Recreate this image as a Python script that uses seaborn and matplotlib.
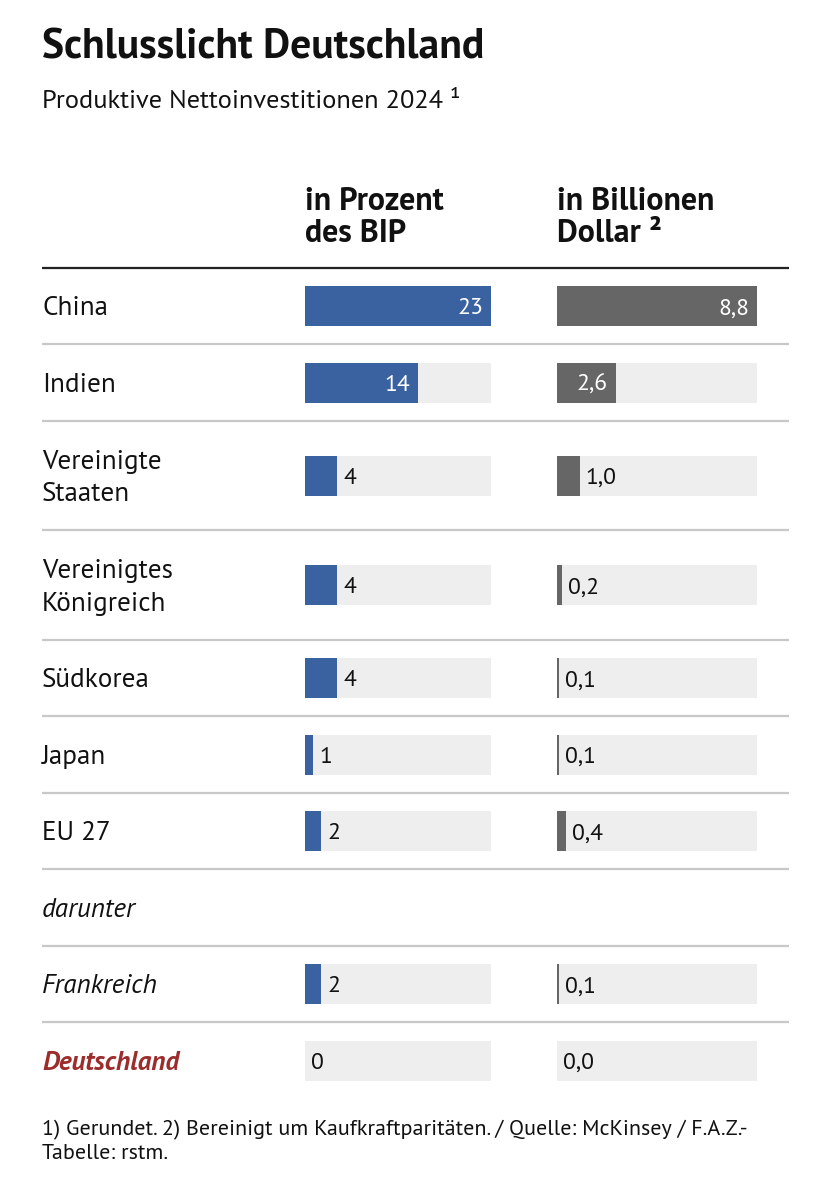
import numpy as np
import matplotlib
matplotlib.use("Agg")
import matplotlib.pyplot as plt
import matplotlib.transforms as mtransforms
from matplotlib import font_manager
import seaborn as sns

# ---------------- data ----------------
countries = ["China", "Indien", "Vereinigte\nStaaten", "Vereinigtes\nKönigreich",
             "Südkorea", "Japan", "EU 27", "darunter", "Frankreich", "Deutschland"]
pct_bip = [23, 14, 4, 4, 4, 1, 2, None, 2, 0]
usd_bn = [8.8, 2.6, 1.0, 0.2, 0.1, 0.1, 0.4, None, 0.1, 0.0]
pct_labels = ["23", "14", "4", "4", "4", "1", "2", "", "2", "0"]
usd_labels = ["8,8", "2,6", "1,0", "0,2", "0,1", "0,1", "0,4", "", "0,1", "0,0"]

title = "Schlusslicht Deutschland"
subtitle = "Produktive Nettoinvestitionen 2024 ¹"
header1 = ["in Prozent", "des BIP"]
header2 = ["in Billionen", "Dollar ²"]
footnote = ["1) Gerundet. 2) Bereinigt um Kaufkraftparitäten. / Quelle: McKinsey / F.A.Z.-",
            "Tabelle: rstm."]

# ---------------- style ----------------
sns.set_theme(style="white")
fams = sorted({f.name for f in font_manager.fontManager.ttflist})
FONT = next((f for f in ["PT Sans", "Lato"] if f in fams), "DejaVu Sans")
plt.rcParams["font.family"] = [FONT, "DejaVu Sans"]
CAP = 0.70  # cap height / em

BLUE = "#3a62a0"
GREY = "#666666"
TRACK = "#eeeeee"
SEP = "#c8c8c8"
RED = "#9b2d2d"
TXT = "#111111"

W, H = 831, 1200
fig = plt.figure(figsize=(W / 100, H / 100), dpi=100)
fig.patch.set_facecolor("white")


def px(pt):
    return pt * 100 / 72


# layout (pixels)
table_top = 268
row_heights = [76, 77, 109, 110, 76, 77, 76, 77, 76, 77]
edges = table_top + np.concatenate([[0], np.cumsum(row_heights)])
centers = (edges[:-1] + edges[1:]) / 2
bar_h = 40

col1_left, col1_w = 305, 186
col2_left, col2_w = 557, 200


def make_ax(left, width, xmax):
    ax = fig.add_axes([left / W, 0, width / W, 1])
    ax.set_xlim(0, xmax)
    ax.set_ylim(H, 0)
    ax.set_axis_off()
    return ax


ax1 = make_ax(col1_left, col1_w, max(v for v in pct_bip if v is not None))
ax2 = make_ax(col2_left, col2_w, max(v for v in usd_bn if v is not None))

VAL_FS = 17
for ax, vals, labels, color in [(ax1, pct_bip, pct_labels, BLUE),
                                (ax2, usd_bn, usd_labels, GREY)]:
    idx = [i for i, v in enumerate(vals) if v is not None]
    ys = centers[idx]
    xs = np.array([vals[i] for i in idx], dtype=float)
    xmax = ax.get_xlim()[1]
    spacing = np.min(np.diff(np.sort(ys)))
    sns.barplot(x=np.full_like(xs, xmax), y=ys, orient="h", native_scale=True,
                color=TRACK, saturation=1, width=bar_h / spacing, errorbar=None,
                linewidth=0, ax=ax)
    sns.barplot(x=xs, y=ys, orient="h", native_scale=True,
                color=color, saturation=1, width=bar_h / spacing, errorbar=None,
                linewidth=0, ax=ax)
    ax.set_xlim(0, xmax)
    ax.set_ylim(H, 0)
    ax.set_axis_off()
    for i in idx:
        v = vals[i]
        yb = centers[i] + px(VAL_FS) * CAP / 2
        if v / xmax >= 0.25:
            tr = mtransforms.offset_copy(ax.transData, fig=fig, x=-8, y=0, units="dots")
            ax.text(v, yb, labels[i], transform=tr, ha="right", va="baseline",
                    color="white", fontsize=VAL_FS)
        else:
            tr = mtransforms.offset_copy(ax.transData, fig=fig, x=6, y=0, units="dots")
            ax.text(v, yb, labels[i], transform=tr, ha="left", va="baseline",
                    color=TXT, fontsize=VAL_FS)

ov = fig.add_axes([0, 0, 1, 1], zorder=-1)
ov.set_xlim(0, W)
ov.set_ylim(H, 0)
ov.set_axis_off()

ov.text(42, 58.5, title, fontsize=30, fontweight="bold", color=TXT, va="baseline", ha="left")
ov.text(42, 108.5, subtitle, fontsize=19, color=TXT, va="baseline", ha="left")
for x0, hdr in [(305, header1), (557, header2)]:
    for k, line in enumerate(hdr):
        ov.text(x0, 209.5 + 32 * k, line, fontsize=23, fontweight="bold", color=TXT,
                va="baseline", ha="left")

ov.plot([42, 789], [table_top, table_top], color="#222222", lw=1.6, solid_capstyle="butt")
for e in edges[1:-1]:
    ov.plot([42, 789], [e, e], color=SEP, lw=1.6, solid_capstyle="butt")

LAB_FS = 19.5
cap_lab = px(LAB_FS) * CAP
for i, name in enumerate(countries):
    kw = dict(fontsize=LAB_FS, color=TXT, va="baseline", ha="left")
    if name in ("darunter", "Frankreich"):
        kw["style"] = "italic"
    if name == "Deutschland":
        kw.update(style="italic", fontweight="bold", color=RED)
    lines = name.split("\n")
    lead = 32.5
    top_base = centers[i] + cap_lab / 2 - lead * (len(lines) - 1) / 2
    for k, line in enumerate(lines):
        ov.text(42, top_base + lead * k, line, **kw)

for k, line in enumerate(footnote):
    ov.text(42, 1135 + 24.3 * k, line, fontsize=15.8, color=TXT, va="baseline", ha="left")

fig.savefig("out.png", dpi=100, facecolor="white")
